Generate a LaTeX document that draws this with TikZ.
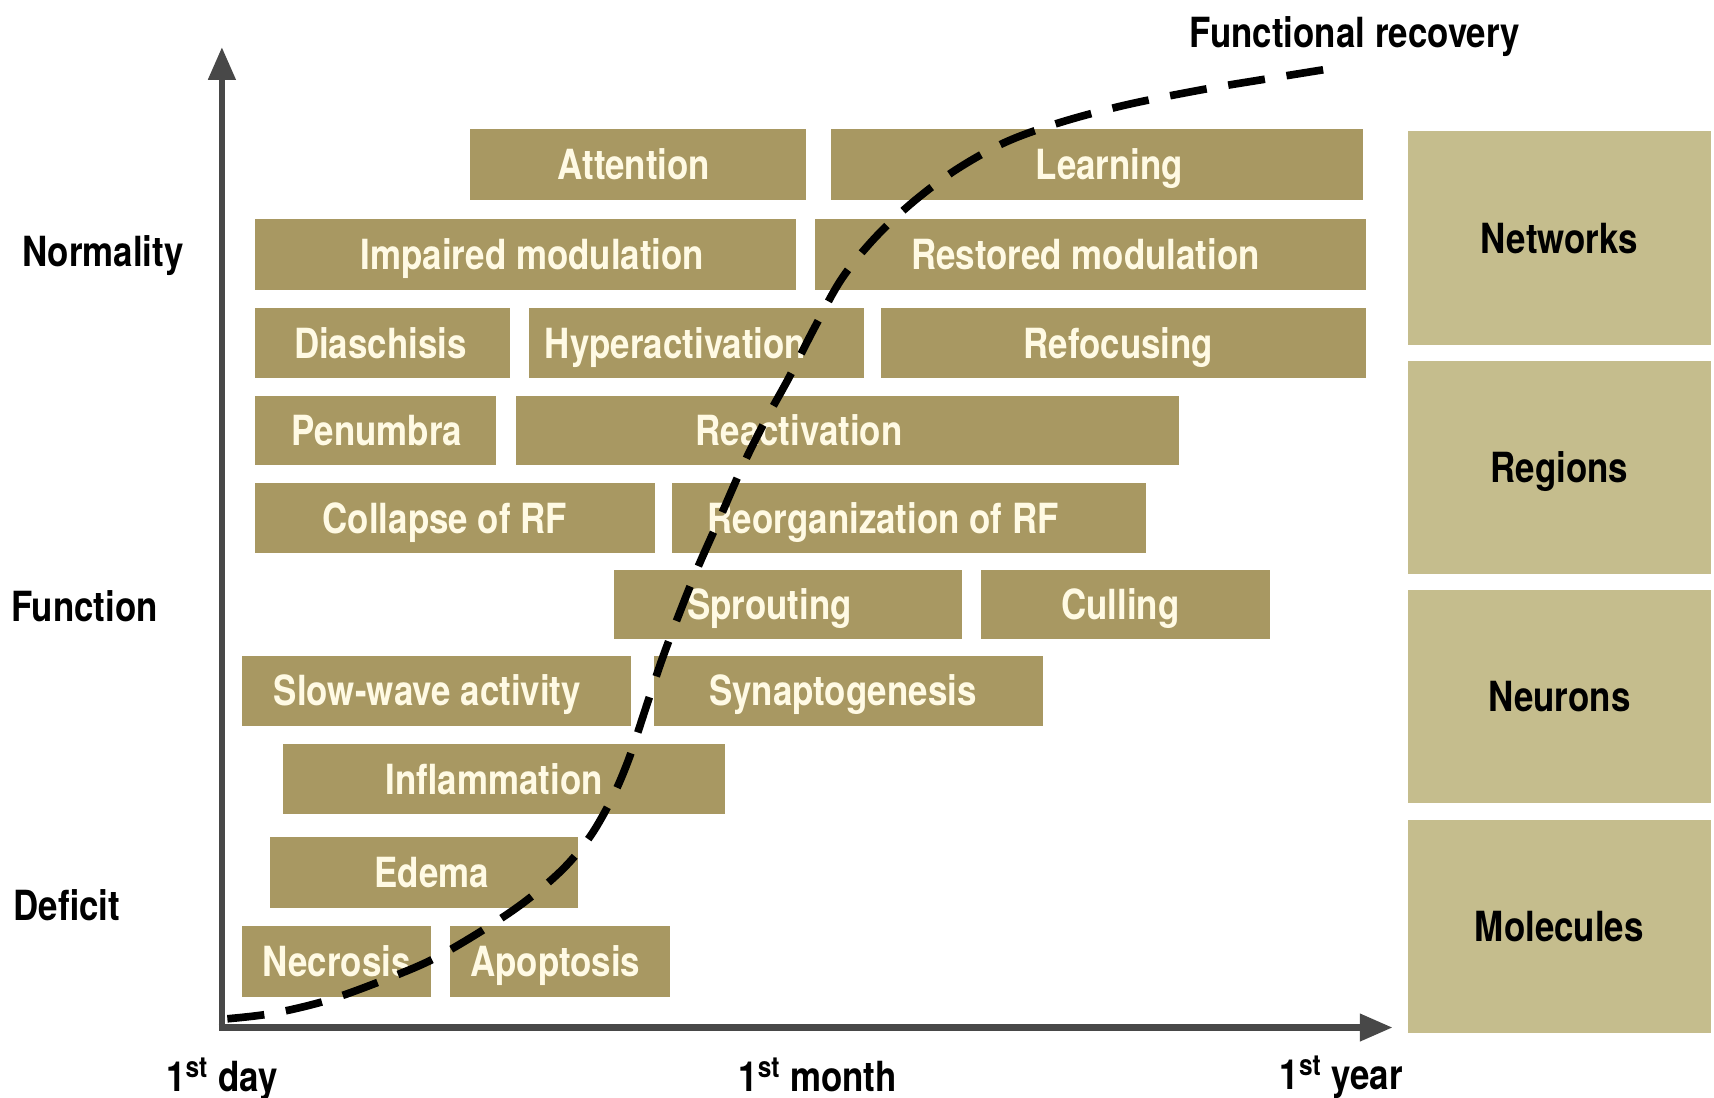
\documentclass[tikz,border=0pt]{standalone}
\usepackage{fontspec}
\setmainfont{TeX Gyre Heros}[FakeStretch=0.84]
\usetikzlibrary{arrows.meta,fit}
\definecolor{olivebox}{RGB}{168,152,98}
\definecolor{palebox}{RGB}{197,189,141}
\definecolor{creamtxt}{RGB}{255,250,228}
\definecolor{axisgray}{RGB}{72,72,72}
\newcommand\obox[7]{%
  \node[obox, fit={(#2,#3) (#4,#5)}] (#1) {};
  \node[otext] (#1-t) at (#6,{(#3+#5)/2}) {#7};}
\newcommand\pbox[6]{%
  \node[pbox, fit={(#2,#3) (#4,#5)}] (#1) {};
  \node[ptext] (#1-t) at (#1.center) {#6};}
\begin{document}
\begin{tikzpicture}[x=0.5pt,y=-0.5pt,
  obox/.style={fill=olivebox, draw=none, inner sep=0pt},
  pbox/.style={fill=palebox, draw=none, inner sep=0pt},
  basetext/.style={font=\fontsize{19}{22}\selectfont\bfseries, inner sep=0pt, text height=13.7pt, text depth=0pt},
  otext/.style={basetext, text=creamtxt},
  ptext/.style={basetext, text=black},
  axlbl/.style={basetext, text=black},
  axisline/.style={draw=axisgray, line width=3pt, -{Triangle[length=15pt,width=12pt]}},
  recov/.style={draw=black, line width=3.5pt, dash pattern=on 17pt off 10pt}
]
\useasboundingbox (0,0) rectangle (1568,1004);

% right column
\pbox{net}{1288}{120}{1565}{316}{Networks}
\pbox{reg}{1288}{330}{1565}{525}{Regions}
\pbox{neu}{1288}{540}{1565}{735}{Neurons}
\pbox{mol}{1288}{750}{1565}{945}{Molecules}

% olive boxes
\obox{attn}{430}{118}{737}{183}{580}{Attention}
\obox{learn}{760}{118}{1247}{183}{1015}{Learning}
\obox{impm}{233}{200}{728}{265}{487}{Impaired modulation}
\obox{resm}{746}{200}{1250}{265}{993}{Restored modulation}
\obox{dia}{233}{282}{467}{346}{348}{Diaschisis}
\obox{hyp}{484}{282}{790}{346}{618}{Hyperactivation}
\obox{ref}{806}{282}{1250}{346}{1023}{Refocusing}
\obox{pen}{233}{362}{454}{425}{345}{Penumbra}
\obox{react}{472}{362}{1079}{425}{731}{Reactivation}
\obox{coll}{233}{442}{599}{506}{407}{Collapse of RF}
\obox{reorg}{615}{442}{1048}{506}{808}{Reorganization of RF}
\obox{spr}{562}{521}{880}{585}{704}{Sprouting}
\obox{cull}{897}{521}{1162}{585}{1025}{Culling}
\obox{slow}{221}{600}{577}{664}{391}{Slow-wave activity}
\obox{syn}{598}{600}{954}{664}{771}{Synaptogenesis}
\obox{infl}{259}{681}{663}{745}{452}{Inflammation}
\obox{ede}{247}{766}{529}{831}{395}{Edema}
\obox{nec}{221}{847}{394}{912}{308}{Necrosis}
\obox{apo}{412}{847}{613}{912}{508}{Apoptosis}

% axes
\coordinate (origin) at (203,940);
\coordinate (ytip) at (203,43);
\coordinate (xtip) at (1274,940);
\draw[axisline] ([yshift=-1.5pt]origin) -- (ytip);
\draw[axisline] ([xshift=-1.5pt]origin) -- (xtip);

% axis labels
\node[axlbl, anchor=west] (normality) at (20,230) {Normality};
\node[axlbl, anchor=west] (function) at (10,555) {Function};
\node[axlbl, anchor=west] (deficit) at (12,828) {Deficit};
\node[axlbl] (day) at (203,985) {1\textsuperscript{st} day};
\node[axlbl] (month) at (748,985) {1\textsuperscript{st} month};
\node[axlbl] (year) at (1227,983) {1\textsuperscript{st} year};
\node[axlbl, anchor=west] (fr) at (1088,30) {Functional recovery};

% recovery curve
\coordinate (cstart) at (208,932);
\coordinate (cend) at (1222,62);
\draw[recov] plot[smooth, tension=0.55] coordinates {
 (cstart) (250,927) (300,915) (350,897) (395,878) (440,852) (480,825)
 (515,795) (540,765) (560,730) (575,695) (590,650) (605,605) (620,565)
 (638,520) (658,475) (680,425) (700,385) (722,345) (745,300) (770,255)
 (800,218) (835,185) (875,155) (920,130) (970,112) (1030,96) (1100,82)
 (1160,72) (cend)};
\end{tikzpicture}
\end{document}
